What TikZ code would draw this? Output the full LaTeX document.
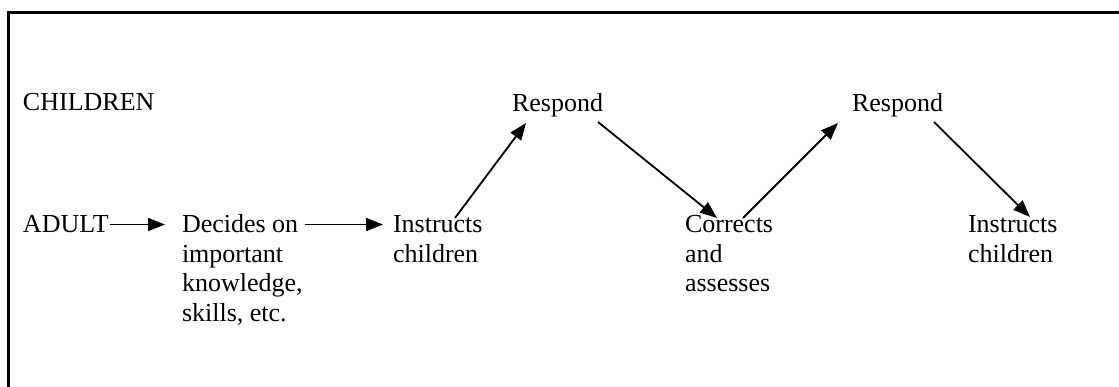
\documentclass[tikz,border=0pt]{standalone}
\usepackage{fontspec}
\setmainfont{Liberation Serif}
\usetikzlibrary{arrows.meta,calc}
% stacked lines whose baseline is the first line
\newcommand{\stackl}[1]{\begin{tabular}[t]{@{}l@{}}#1\end{tabular}}
\begin{document}
\begin{tikzpicture}[x=1pt,y=-1pt,
  lbl/.style={inner sep=0pt,outer sep=0pt,anchor=base west,
    font=\fontsize{26}{29.5}\selectfont},
  arr/.style={line width=1.8pt,-{Triangle[length=17pt,width=13pt]}},
  frame/.style={line width=3pt}]
  \useasboundingbox (0,0) rectangle (1119,387);
  % open frame: top and left edges only
  \coordinate (fl) at (8,400);
  \coordinate (fc) at (8,13);
  \coordinate (fr) at (1130,13);
  \draw[frame] (fl) -- (fc) -- (fr);

  % row labels and steps
  \node[lbl] (children) at (23,111) {CHILDREN};
  \node[lbl] (adult) at (23,233) {ADULT};
  \node[lbl] (decides) at (182,233) {\stackl{Decides on\\important\\knowledge,\\skills, etc.}};
  \node[lbl] (instr1) at (393,233) {\stackl{Instructs\\children}};
  \node[lbl] (resp1) at (512,112) {Respond};
  \node[lbl] (corr) at (685,233) {\stackl{Corrects\\and\\assesses}};
  \node[lbl] (resp2) at (852,112) {Respond};
  \node[lbl] (instr2) at (968,233) {\stackl{Instructs\\children}};

  % horizontal arrows of the adult row
  \draw[arr,shorten <=1pt,shorten >=17pt] (adult.east) -- (adult.east -| decides.west);
  \draw[arr,shorten <=2pt,shorten >=10pt] (decides.east |- adult.east) -- (adult.east -| instr1.west);

  % zig-zag between adult and children
  \draw[arr] ($(instr1.base west)+(62,-15)$) -- ($(resp1.base west)+(14,11)$);
  \draw[arr] ($(resp1.base east)+(-5,10)$) -- ($(corr.base west)+(32,-15)$);
  \draw[arr] ($(corr.base west)+(58,-15)$) -- ($(resp2.base west)+(-14,11)$);
  \draw[arr] ($(resp2.base east)+(-9,10)$) -- ($(instr2.base west)+(62,-16)$);
\end{tikzpicture}
\end{document}
